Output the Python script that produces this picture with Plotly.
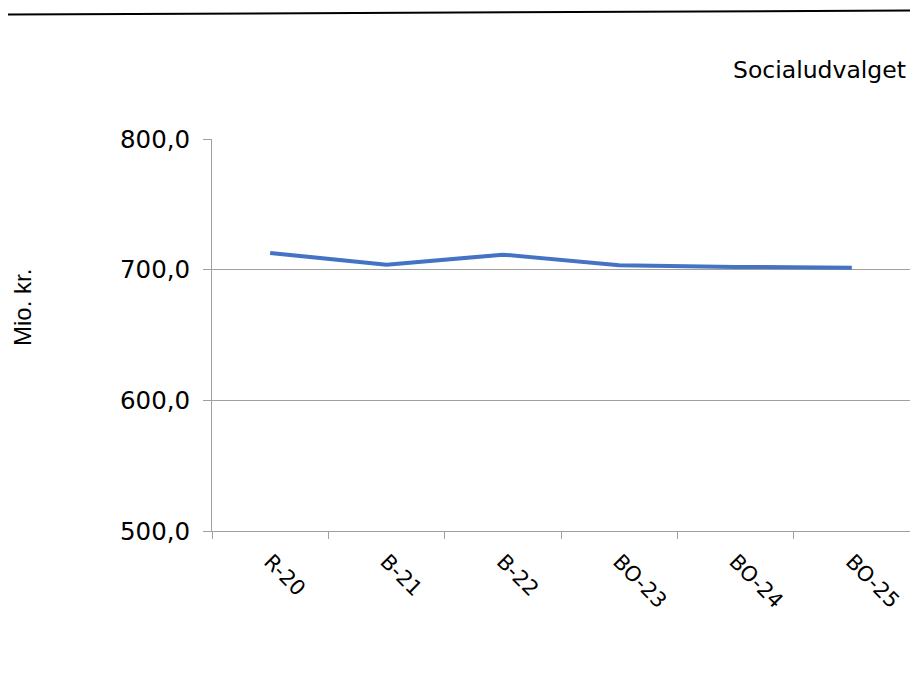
import plotly.graph_objects as go

# Socialudvalget, mio. kr.
categories = ["R-20", "B-21", "B-22", "BO-23", "BO-24", "BO-25"]
values = [712.8, 703.8, 711.5, 703.3, 702.1, 701.5]
y_ticks = [500, 600, 700, 800]

W, H = 910, 686
L, R, T, B = 212, 0, 139, 155

def px(x):
    return (x - L) / (W - L - R)

def py(y):
    return (H - B - y) / (H - T - B)

fig = go.Figure()
fig.add_trace(go.Scatter(
    x=categories, y=values, mode="lines",
    line=dict(color="#4472C4", width=4),
    showlegend=False, hoverinfo="skip"))

fig.update_layout(
    width=W, height=H,
    margin=dict(l=L, r=R, t=T, b=B),
    plot_bgcolor="white", paper_bgcolor="white",
    separators=",.",
    font=dict(family="DejaVu Sans", color="black"),
    xaxis=dict(
        type="category", tickson="boundaries", automargin=False,
        range=[-0.5, len(categories) - 0.5],
        showline=True, linecolor="#a0a0a0", linewidth=1,
        ticks="outside", ticklen=7, tickcolor="#a0a0a0",
        showgrid=False, tickangle=45,
        tickfont=dict(size=21, family="DejaVu Sans"),
        ticklabelstandoff=9,
    ),
    yaxis=dict(
        range=[500, 800], tickvals=y_ticks, tickformat=".1f",
        automargin=False,
        showgrid=True, gridcolor="#a0a0a0", gridwidth=1,
        showline=True, linecolor="#a0a0a0", linewidth=1,
        ticks="outside", ticklen=8, tickcolor="#a0a0a0",
        zeroline=False,
        tickfont=dict(size=24.5, family="DejaVu Sans"),
        ticklabelstandoff=8,
    ),
)

fig.add_annotation(
    text="Socialudvalget", xref="paper", yref="paper",
    x=px(908), y=py(70), xanchor="right", yanchor="middle",
    showarrow=False, font=dict(size=23.5, family="DejaVu Sans"))

fig.add_annotation(
    text="Mio. kr.", xref="paper", yref="paper",
    x=px(22), y=py(308), xanchor="center", yanchor="middle",
    textangle=-90, showarrow=False,
    font=dict(size=24, family="Liberation Sans"))

# rule under the (cropped) heading
fig.add_shape(type="line", xref="paper", yref="paper",
              x0=px(8), y0=py(14.5), x1=px(910), y1=py(10.5),
              line=dict(color="black", width=2))

fig.write_html("out.html", config={"displayModeBar": False},
               post_script="document.body.style.margin='0';"
                           "document.body.style.overflow='hidden';")
